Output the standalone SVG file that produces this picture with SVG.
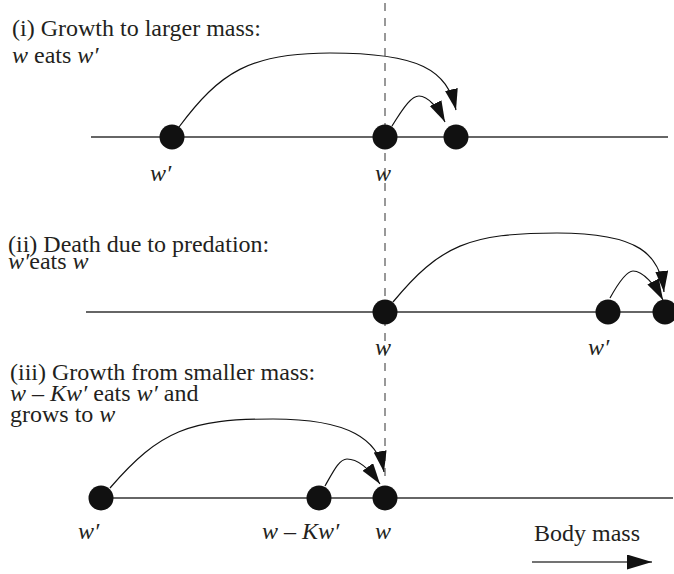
<svg xmlns="http://www.w3.org/2000/svg" width="674" height="574" viewBox="0 0 674 574">
<style>
text{font-family:'Liberation Serif','DejaVu Serif',serif;font-size:24px;fill:#231f20}
.it{font-style:italic}
.axis{stroke:#333;stroke-width:1.3;fill:none}
.dash{stroke:#777;stroke-width:1.5;stroke-dasharray:8 7;fill:none}
.arc{stroke:#111;stroke-width:1.2;fill:none;marker-end:url(#ah)}
.dot{fill:#111}
</style>
<defs>
<marker id="ah" markerUnits="userSpaceOnUse" markerWidth="24" markerHeight="14" refX="21" refY="6.5" orient="auto">
<path d="M0,0 L21,6.5 L0,13 z" fill="#111"/>
</marker>
<marker id="ah2" markerUnits="userSpaceOnUse" markerWidth="26" markerHeight="16" refX="25" refY="7.5" orient="auto">
<path d="M0,0 L25,7.5 L0,15 z" fill="#111"/>
</marker>
</defs>
<g id="axes">
<line class="axis" x1="91" y1="137" x2="668" y2="137"/>
<line class="axis" x1="86" y1="312" x2="674" y2="312"/>
<line class="axis" x1="101" y1="498" x2="673" y2="498"/>
<line class="dash" x1="385" y1="3" x2="385" y2="478"/>
</g>
<g id="connectors">
<path class="arc" d="M179,127 C220,72 250,53 330,53 C420,53 447,70 456,110"/>
<path class="arc" d="M392,126 C405,105 412,96 419,96 C428,96 438,108 445,122"/>
<path class="arc" d="M393,302 C440,245 470,233 557,233 C640,233 660,255 664,292"/>
<path class="arc" d="M610,298 C620,280 627,271 633,271 C643,271 655,285 663,300"/>
<path class="arc" d="M110,488 C160,430 190,419 273,419 C350,419 378,440 384,472"/>
<path class="arc" d="M325,486 C333,472 339,459 347,459 C358,459 370,470 380,484"/>
<line x1="532" y1="562" x2="652" y2="562" stroke="#444" stroke-width="1.5" marker-end="url(#ah2)"/>
</g>
<g id="panel1">
<text x="12" y="36">(i) Growth to larger mass:</text>
<text x="12" y="63"><tspan class="it">w</tspan> eats <tspan class="it">w′</tspan></text>
<g id="p1-wprime"><circle class="dot" cx="172" cy="137" r="12.5"/><text class="it" x="150" y="181">w′</text></g>
<g id="p1-w"><circle class="dot" cx="385" cy="137" r="12.5"/><text class="it" x="375" y="181">w</text></g>
<g id="p1-wnew"><circle class="dot" cx="456" cy="137" r="12.5"/></g>
</g>
<g id="panel2">
<text x="8" y="252">(ii) Death due to predation:</text>
<text x="8" y="269"><tspan class="it">w′</tspan>eats <tspan class="it">w</tspan></text>
<g id="p2-w"><circle class="dot" cx="385" cy="312" r="12.5"/><text class="it" x="375" y="355">w</text></g>
<g id="p2-wprime"><circle class="dot" cx="608" cy="312" r="12.5"/><text class="it" x="588" y="355">w′</text></g>
<g id="p2-wnew"><circle class="dot" cx="665" cy="312" r="12.5"/></g>
</g>
<g id="panel3">
<text x="10" y="380">(iii) Growth from smaller mass:</text>
<text x="10" y="401"><tspan class="it">w</tspan> – <tspan class="it">Kw′</tspan> eats <tspan class="it">w′</tspan> and</text>
<text x="10" y="422">grows to <tspan class="it">w</tspan></text>
<g id="p3-wprime"><circle class="dot" cx="101" cy="498" r="12.5"/><text class="it" x="78" y="539">w′</text></g>
<g id="p3-wmk"><circle class="dot" cx="319" cy="498" r="12.5"/><text x="262" y="539"><tspan class="it">w</tspan> – <tspan class="it">Kw′</tspan></text></g>
<g id="p3-w"><circle class="dot" cx="385" cy="498" r="12.5"/><text class="it" x="375" y="539">w</text></g>
<text x="534" y="541">Body mass</text>
</g>
</svg>
